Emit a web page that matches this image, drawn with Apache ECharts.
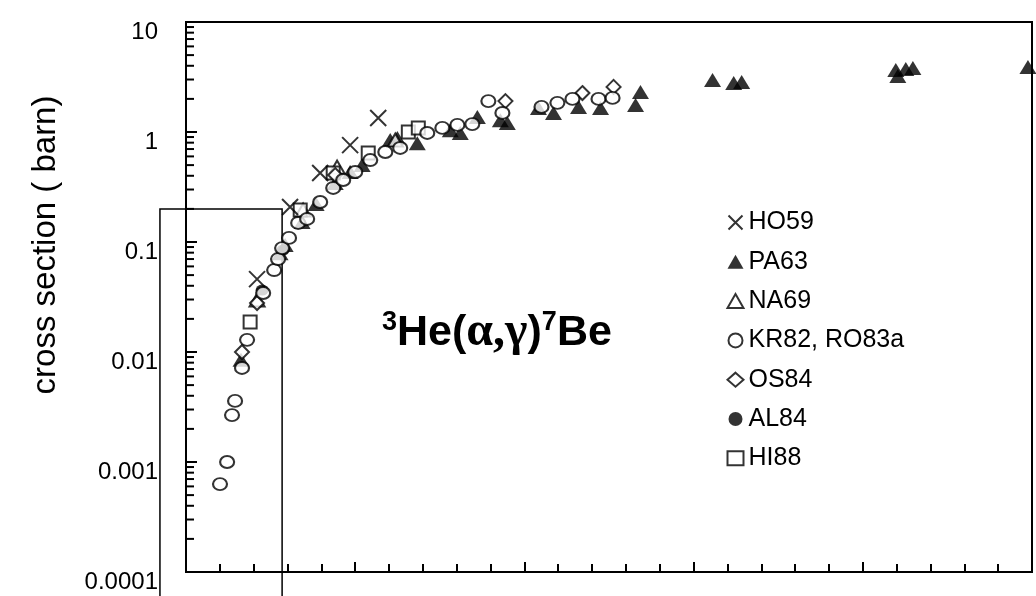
<!DOCTYPE html>
<html>
<head>
<meta charset="utf-8">
<script src="https://cdn.jsdelivr.net/npm/echarts@6/dist/echarts.min.js"></script>
<style>
  html, body { margin: 0; padding: 0; background: #fff; }
  #main { width: 1036px; height: 596px; }
</style>
</head>
<body>
<div id="main"></div>
<script>
// data: [x (axis units 0..5), cross section in barn]
var ho59 = [[0.42, 0.046], [0.615, 0.208], [0.793, 0.424], [0.97, 0.76], [1.136, 1.34]];
var pa63 = [[0.325, 0.0085], [0.556, 0.079], [0.586, 0.094], [0.686, 0.152], [0.769, 0.222],
            [0.882, 0.344], [0.97, 0.433], [1.041, 0.5], [1.207, 0.846], [1.249, 0.882],
            [1.367, 0.79], [1.562, 1.04], [1.621, 0.98], [1.722, 1.37], [1.858, 1.28],
            [1.899, 1.21], [2.083, 1.65], [2.172, 1.49], [2.32, 1.69], [2.45, 1.65],
            [2.657, 1.76], [2.686, 2.31], [3.112, 2.97], [3.237, 2.79], [3.284, 2.85],
            [4.195, 3.66], [4.207, 3.23], [4.254, 3.74], [4.296, 3.82], [4.976, 3.9]];
var na69 = [[0.42, 0.0297], [0.692, 0.195], [0.893, 0.48], [1.237, 0.846]];
var kr82 = [[0.201, 0.00063], [0.243, 0.001], [0.272, 0.00267], [0.29, 0.00359], [0.331, 0.00716],
            [0.361, 0.0129], [0.456, 0.0344], [0.521, 0.0556], [0.544, 0.07], [0.568, 0.088],
            [0.609, 0.109], [0.663, 0.149], [0.716, 0.162], [0.793, 0.231], [0.87, 0.31],
            [0.929, 0.366], [1.0, 0.433], [1.089, 0.556], [1.178, 0.658], [1.266, 0.716],
            [1.426, 0.98], [1.515, 1.09], [1.604, 1.16], [1.692, 1.18], [1.787, 1.91],
            [1.87, 1.49], [2.101, 1.69], [2.195, 1.84], [2.284, 2.0], [2.438, 2.0], [2.521, 2.04]];
var os84 = [[0.331, 0.01], [0.42, 0.0279], [0.882, 0.406], [1.888, 1.91], [2.343, 2.26], [2.527, 2.57]];
var al84 = [[0.45, 0.0366], [0.574, 0.0846]];
var hi88 = [[0.379, 0.0187], [0.675, 0.195], [0.87, 0.424], [1.077, 0.645], [1.314, 1.0], [1.373, 1.09]];
var boxOutline = [[-0.154, 0.00005], [-0.154, 0.2], [0.568, 0.2], [0.568, 0.00005]];
var yDecades = [0.0001, 0.001, 0.01, 0.1, 1];
var minorMultipliers = [2, 3, 4, 5, 6, 7, 8, 9];

var minorTicks = [];
yDecades.forEach(function (d) {
  minorMultipliers.forEach(function (m) { minorTicks.push([0, d * m]); });
});

var chart = echarts.init(document.getElementById('main'));
var font = 'Liberation Sans, Arial, sans-serif';
var crossPath = 'path://M0,0L10,10M10,0L0,10';

function pts(name, data, symbol, size, filled) {
  return {
    name: name, type: 'scatter', data: data, symbol: symbol, symbolSize: size,
    itemStyle: filled ? { color: '#000' } : { color: '#fff', borderColor: '#000', borderWidth: 2 }
  };
}

var option = {
  animation: false,
  backgroundColor: '#fff',
  grid: { left: 186, top: 22, right: 4, bottom: 24, show: true, borderColor: '#000', borderWidth: 2 },
  title: {
    left: 377, top: 304,
    text: '{s|3}{b|He(}{g|\u03b1,\u03b3}{b|)}{s|7}{b|Be}',
    textStyle: {
      rich: {
        s: { fontFamily: font, fontSize: 27, fontWeight: 'bold', color: '#000', verticalAlign: 'top', lineHeight: 48 },
        b: { fontFamily: font, fontSize: 43, fontWeight: 'bold', color: '#000', lineHeight: 48 },
        g: { fontFamily: 'Liberation Serif, Times New Roman, serif', fontSize: 48, color: '#000', lineHeight: 48 }
      }
    }
  },
  legend: {
    orient: 'vertical', left: 721, top: 205, itemWidth: 16, itemHeight: 14, itemGap: 14.3,
    data: ['HO59', 'PA63', 'NA69', 'KR82, RO83a', 'OS84', 'AL84', 'HI88'],
    textStyle: { fontFamily: font, fontSize: 25, color: '#000', lineHeight: 24 }
  },
  xAxis: {
    type: 'value', min: 0, max: 5, interval: 1,
    axisLine: { lineStyle: { color: '#000', width: 2 } },
    axisTick: { inside: true, length: 10, lineStyle: { color: '#000', width: 2 } },
    minorTick: { show: true, splitNumber: 5, length: 8, lineStyle: { color: '#000', width: 2 } },
    axisLabel: { show: false },
    splitLine: { show: false }
  },
  yAxis: {
    type: 'log', logBase: 10, min: 0.0001, max: 10,
    name: 'cross section ( barn)', nameLocation: 'middle', nameGap: 124,
    nameTextStyle: { fontFamily: font, fontSize: 33, color: '#000', padding: [0, 0, 0, 104] },
    axisLine: { lineStyle: { color: '#000', width: 2 } },
    axisTick: { inside: true, length: 11, lineStyle: { color: '#000', width: 2 } },
    axisLabel: {
      fontFamily: font, fontSize: 24, color: '#000', margin: 28,
      verticalAlign: 'top', lineHeight: 20,
      formatter: function (v) { return String(+v.toPrecision(1)); }
    },
    splitLine: { show: false }
  },
  series: [
    {
      name: 'box', type: 'custom', data: boxOutline, silent: true, clip: false, z: 1,
      renderItem: function (params, api) {
        if (params.dataIndex !== 0) return;
        var points = boxOutline.map(function (d) { return api.coord(d); });
        return { type: 'polyline', shape: { points: points },
                 style: { stroke: '#000', lineWidth: 1.5, fill: null } };
      }
    },
    {
      name: 'minor', type: 'custom', data: minorTicks, silent: true, clip: false,
      renderItem: function (params, api) {
        var p = api.coord([api.value(0), api.value(1)]);
        return { type: 'line', shape: { x1: p[0], y1: p[1], x2: p[0] + 8, y2: p[1] },
                 style: { stroke: '#000', lineWidth: 2 } };
      }
    },
    pts('PA63', pa63, 'triangle', [17, 14], true),
    pts('AL84', al84, 'circle', [13, 11], true),
    pts('NA69', na69, 'triangle', [15, 13], false),
    pts('HI88', hi88, 'rect', [13, 13], false),
    pts('OS84', os84, 'diamond', [14, 14], false),
    pts('KR82, RO83a', kr82, 'circle', [14, 12], false),
    {
      name: 'HO59', type: 'scatter', data: ho59, symbol: crossPath, symbolSize: 16,
      itemStyle: { color: 'none', borderColor: '#000', borderWidth: 2 }
    }
  ]
};
chart.setOption(option);
</script>
</body>
</html>
